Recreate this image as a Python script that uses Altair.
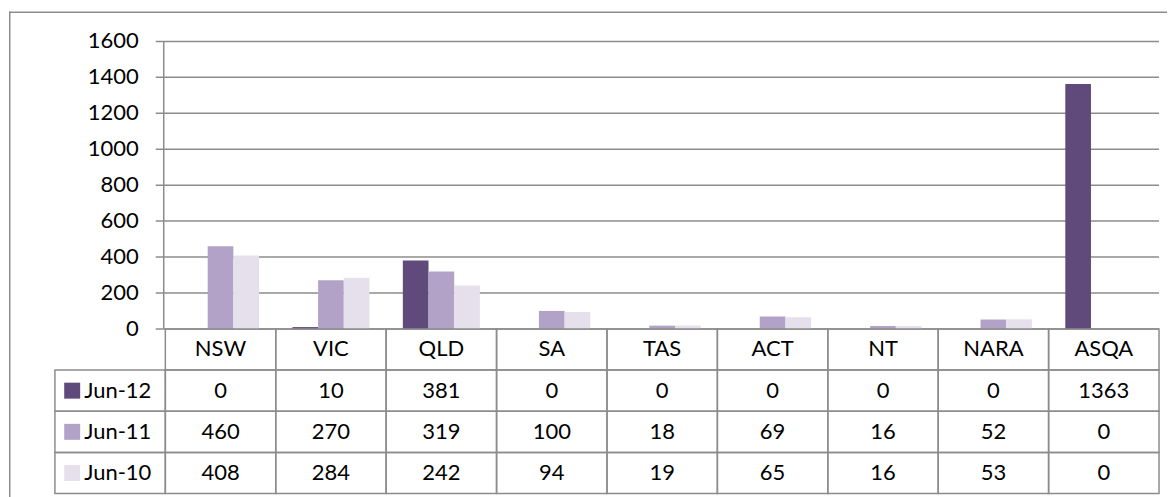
import altair as alt
import pandas as pd

categories = ["NSW", "VIC", "QLD", "SA", "TAS", "ACT", "NT", "NARA", "ASQA"]
series = ["Jun-12", "Jun-11", "Jun-10"]
jun12 = [0, 10, 381, 0, 0, 0, 0, 0, 1363]
jun11 = [460, 270, 319, 100, 18, 69, 16, 52, 0]
jun10 = [408, 284, 242, 94, 19, 65, 16, 53, 0]
y_ticks = [0, 200, 400, 600, 800, 1000, 1200, 1400, 1600]
colors = ["#604A7B", "#B3A2C7", "#E6E0EC"]

LEG = "legend"
HDR = "header"
cols = [LEG] + categories
rows = [HDR] + series
values_by_series = {"Jun-12": jun12, "Jun-11": jun11, "Jun-10": jun10}

bars_df = pd.DataFrame(
    [{"col": c, "series": s, "row": s, "value": v, "label": str(v)}
     for s in series for c, v in zip(categories, values_by_series[s])]
)
ticks_df = pd.DataFrame({"tick": y_ticks, "label": [str(t) for t in y_ticks]})
axis_df = pd.DataFrame({"lo": [y_ticks[0]], "hi": [y_ticks[-1]]})
cells_df = pd.DataFrame(
    [{"col": c, "row": HDR} for c in categories]
    + [{"col": c, "row": s} for s in series for c in cols]
)
hdr_df = pd.DataFrame({"col": categories, "row": HDR, "label": categories})
leg_df = pd.DataFrame({"col": LEG, "row": series, "label": series, "series": series})
one_df = pd.DataFrame({"a": [0]})

FONT = "Lato"
FS = 22
GRAY = "#8C8C8C"
LW = 1.5
W, H = 1160, 484

x_scale = alt.Scale(domain=cols, range=[46, 1152], paddingInner=0, paddingOuter=0)
y_val_scale = alt.Scale(domain=[0, 1600], range=[318, 30], nice=False)
y_row_scale = alt.Scale(domain=rows, range=[318, 483], paddingInner=0, paddingOuter=0)
color_scale = alt.Scale(domain=series, range=colors)
X = alt.X("col:N", scale=x_scale, axis=None)

bars = alt.Chart(bars_df).mark_bar().encode(
    x=X,
    xOffset=alt.XOffset("series:N", scale=alt.Scale(domain=series, paddingInner=0, paddingOuter=0.65)),
    y=alt.Y("value:Q", scale=y_val_scale, axis=None),
    color=alt.Color("series:N", scale=color_scale, legend=None),
)

# gridlines (with their left tick stubs)
grid = alt.Chart(ticks_df).mark_rule(color=GRAY, strokeWidth=LW).encode(
    y=alt.Y("tick:Q", scale=y_val_scale, axis=None),
    x=alt.value(147), x2=alt.value(1152),
)
# y axis line
yaxis_line = alt.Chart(axis_df).mark_rule(color=GRAY, strokeWidth=LW).encode(
    y=alt.Y("lo:Q", scale=y_val_scale, axis=None), y2="hi:Q", x=alt.value(155),
)
# y axis labels
ylabels = alt.Chart(ticks_df).mark_text(font=FONT, fontSize=FS, color="black", align="right",
                                        baseline="middle").encode(
    y=alt.Y("tick:Q", scale=y_val_scale, axis=None),
    x=alt.value(130), text="label:N",
)

border_top = alt.Chart(one_df).mark_rule(color=GRAY, strokeWidth=LW).encode(
    x=alt.value(0), x2=alt.value(W), y=alt.value(0.75))
border_left = alt.Chart(one_df).mark_rule(color=GRAY, strokeWidth=LW).encode(
    x=alt.value(0.75), y=alt.value(0), y2=alt.value(H + 20))

top = alt.layer(border_top, border_left, grid, yaxis_line, ylabels, bars)

Yrow = alt.Y("row:N", scale=y_row_scale, axis=None)

cells = alt.Chart(cells_df).mark_rect(fill="white", fillOpacity=0, stroke=GRAY, strokeWidth=LW).encode(
    x=X, y=Yrow)
hdr_txt = alt.Chart(hdr_df).mark_text(font=FONT, fontSize=FS, color="black").encode(
    x=X, y=Yrow, text="label:N")
val_txt = alt.Chart(bars_df).mark_text(font=FONT, fontSize=FS, color="black").encode(
    x=X, y=Yrow, text="label:N")
leg_sq = alt.Chart(leg_df).mark_square(size=256, opacity=1, xOffset=-38).encode(
    x=X, y=Yrow, color=alt.Color("series:N", scale=color_scale, legend=None))
leg_txt = alt.Chart(leg_df).mark_text(font=FONT, fontSize=FS, color="black", align="left", dx=-26).encode(
    x=X, y=Yrow, text="label:N")

table = alt.layer(cells, hdr_txt, val_txt, leg_sq, leg_txt)

chart = alt.layer(top, table).resolve_scale(y="independent").properties(
    width=W, height=H, padding={"left": 0, "top": 2, "right": 0, "bottom": 0}
).configure_view(strokeWidth=0)

chart.save("out.html", embed_options={"renderer": "svg", "actions": False})
